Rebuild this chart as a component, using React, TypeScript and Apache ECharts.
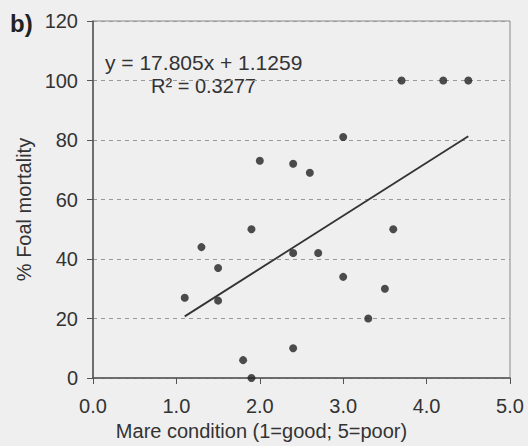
import React, { useEffect, useRef } from "react";
import * as echarts from "echarts";

const conditionX: number[] = [1.1, 1.3, 1.5, 1.5, 1.8, 1.9, 1.9, 2.0, 2.4, 2.4, 2.4, 2.6, 2.7, 3.0, 3.0, 3.3, 3.5, 3.6, 3.7, 4.2, 4.5];
const mortalityY: number[] = [27, 44, 37, 26, 6, 0, 50, 73, 72, 42, 10, 69, 42, 81, 34, 20, 30, 50, 100, 100, 100];
const slope = 17.805;
const intercept = 1.1259;
const rSquared = 0.3277;
const trendX: number[] = [1.1, 4.5];

const FONT = "Liberation Sans, Arial, sans-serif";

export default function App() {
  const ref = useRef<HTMLDivElement>(null);
  useEffect(() => {
    if (!ref.current) return;
    const chart = echarts.init(ref.current, undefined, { renderer: "svg" });
    const points = conditionX.map((x, i) => [x, mortalityY[i]]);
    const trend = trendX.map((x) => [x, slope * x + intercept]);
    chart.setOption({
      animation: false,
      backgroundColor: "#efefef",
      textStyle: { fontFamily: FONT },
      grid: {
        left: 93,
        top: 21,
        right: 18,
        bottom: 68,
        show: true,
        borderColor: "#8a8a8a",
        borderWidth: 1,
        backgroundColor: "transparent",
      },
      xAxis: {
        type: "value",
        min: 0,
        max: 5,
        interval: 1,
        name: "Mare condition (1=good; 5=poor)",
        nameLocation: "middle",
        nameGap: 43,
        nameTextStyle: { fontSize: 20, color: "#333", fontFamily: FONT, padding: [0, 80, 0, 0] },
        axisLine: { show: true, lineStyle: { color: "#555", width: 1.5 } },
        axisTick: { show: true, length: 6, lineStyle: { color: "#555" } },
        axisLabel: { fontSize: 20, color: "#333", margin: 18, fontFamily: FONT, formatter: (v: number) => v.toFixed(1) },
        splitLine: { show: false },
      },
      yAxis: {
        type: "value",
        min: 0,
        max: 120,
        interval: 20,
        name: "% Foal mortality",
        nameLocation: "middle",
        nameGap: 57,
        nameTextStyle: { fontSize: 20, color: "#333", fontFamily: FONT, padding: [0, 20, 0, 0] },
        axisLine: { show: true, lineStyle: { color: "#555", width: 1.5 } },
        axisTick: { show: true, length: 6, lineStyle: { color: "#555" } },
        axisLabel: { fontSize: 20, color: "#333", margin: 15, fontFamily: FONT },
        splitLine: { show: true, lineStyle: { color: "#999", type: [4, 4], width: 1 } },
      },
      graphic: [
        {
          type: "text",
          left: 10,
          top: 11,
          style: { text: "b)", font: `bold 24px ${FONT}`, fill: "#222" },
        },
        {
          type: "text",
          left: 105,
          top: 52,
          style: { text: `y = ${slope}x + ${intercept}`, font: `21px ${FONT}`, fill: "#333" },
        },
        {
          type: "text",
          left: 151,
          top: 76,
          style: { text: `R\u00B2 = ${rSquared}`, font: `20px ${FONT}`, fill: "#333" },
        },
      ],
      series: [
        {
          type: "line",
          data: trend,
          showSymbol: false,
          symbol: "none",
          lineStyle: { color: "#333", width: 1.8 },
          z: 3,
        },
        {
          type: "scatter",
          data: points,
          symbol: "circle",
          symbolSize: 8,
          itemStyle: { color: "#222" },
          z: 4,
        },
      ],
    });
    return () => chart.dispose();
  }, []);
  return <div ref={ref} style={{ width: 528, height: 446, position: "absolute", left: 0, top: 0 }} />;
}
